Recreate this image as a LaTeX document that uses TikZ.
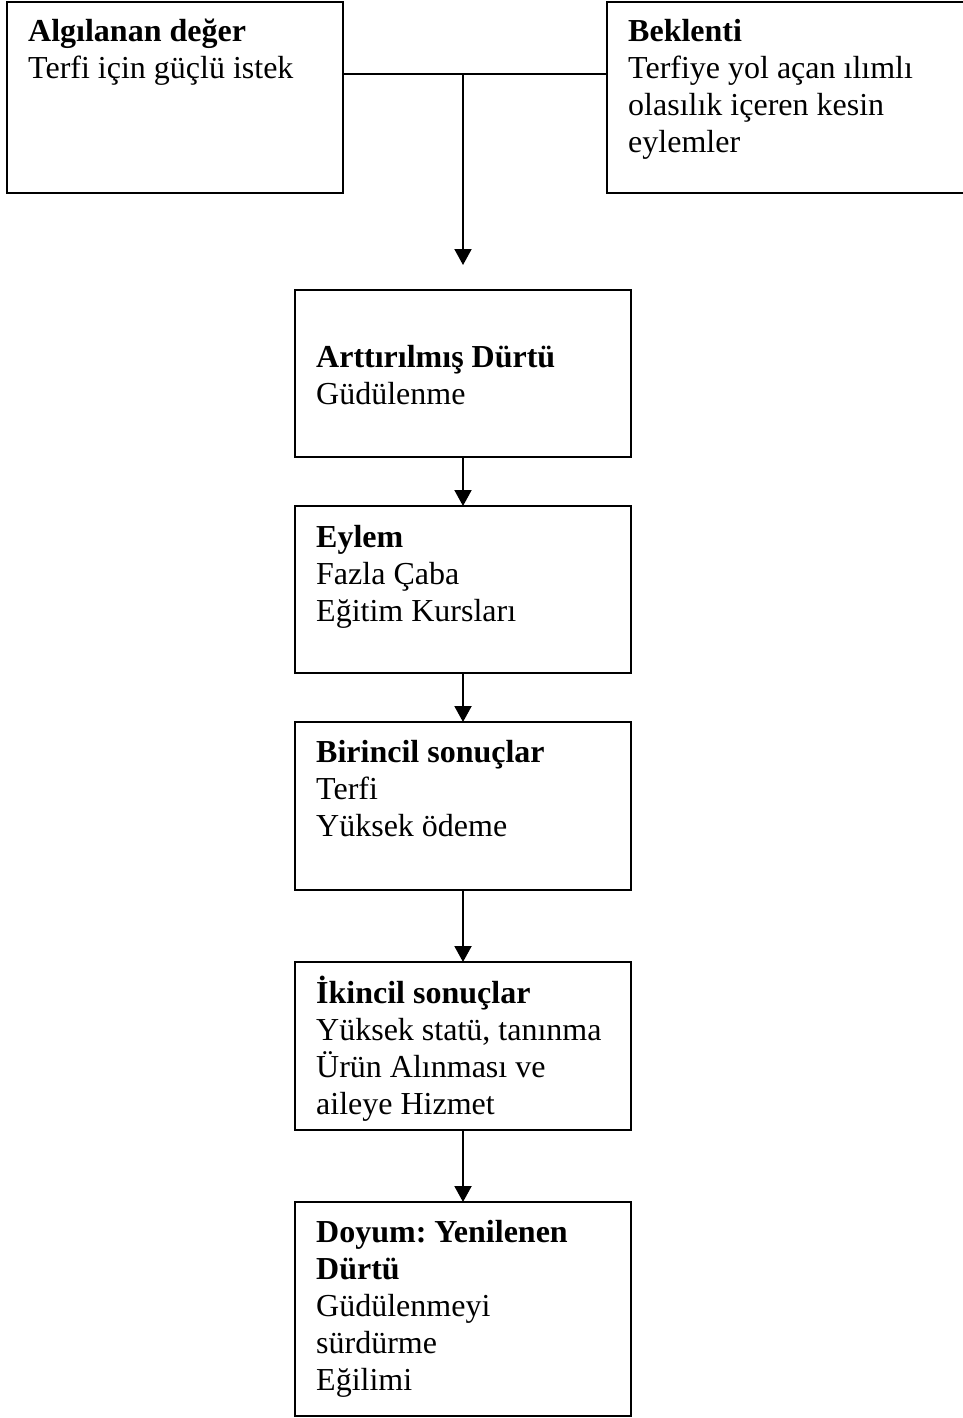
\documentclass[tikz,border=0pt]{standalone}
\usepackage{fontspec}
\setmainfont{Liberation Serif}
\usepackage{tikz}
\usetikzlibrary{arrows.meta,calc}
\tikzstyle{stage}   = [draw,line width=2pt,minimum width=336pt,inner sep=0pt,outer sep=0pt,anchor=north west]
\tikzstyle{boxtext} = [inner sep=0pt,anchor=base west,font=\fontsize{32}{37}\selectfont]
\tikzstyle{link}    = [line width=2pt]
\tikzstyle{flow}    = [line width=2pt,-{Triangle[width=17pt,length=16pt]}]
\newcommand{\stagetext}[2]{\parbox[t]{330pt}{\raggedright\frenchspacing\textbf{#1}\\#2}}

\begin{document}
\begin{tikzpicture}[x=1pt,y=-1pt]
    \useasboundingbox (0,0) rectangle (962,1418);
                  \node (val)[stage,minimum height=191pt] at (7,2) {};
                  \node (exp)[stage,minimum width=370pt,minimum height=191pt] at (607,2) {};
                  \node (s1)[stage,minimum height=167pt] at (295,290) {};
                  \node (s2)[stage,minimum height=167pt] at (295,506) {};
                  \node (s3)[stage,minimum height=168pt] at (295,722) {};
                  \node (s4)[stage,minimum height=168pt] at (295,962) {};
                  \node (s5)[stage,minimum height=214pt] at (295,1202) {};

                  \node (tval)[boxtext] at ($(val.north west)+(21,40)$) {\stagetext{Algılanan değer}{Terfi için güçlü istek}};
                  \node (texp)[boxtext] at ($(exp.north west)+(21,40)$) {\stagetext{Beklenti}{Terfiye yol açan ılımlı\\olasılık içeren kesin\\eylemler}};
                  \node (ts1)[boxtext] at ($(s1.north west)+(21,77)$) {\stagetext{Arttırılmış Dürtü}{Güdülenme}};
                  \node (ts2)[boxtext] at ($(s2.north west)+(21,41)$) {\stagetext{Eylem}{Fazla Çaba\\Eğitim Kursları}};
                  \node (ts3)[boxtext] at ($(s3.north west)+(21,40)$) {\stagetext{Birincil sonuçlar}{Terfi\\Yüksek ödeme}};
                  \node (ts4)[boxtext] at ($(s4.north west)+(21,41)$) {\stagetext{İkincil sonuçlar}{Yüksek statü, tanınma\\Ürün Alınması ve\\aileye Hizmet}};
                  \node (ts5)[boxtext] at ($(s5.north west)+(21,40)$) {\stagetext{Doyum: Yenilenen\\Dürtü}{Güdülenmeyi\\sürdürme\\Eğilimi}};

                  \coordinate (join) at (s1.north |- 0,74);
                  \draw[link] (val.east |- join) -- (exp.west |- join);
                  \draw[flow,shorten >=25pt] (join) -- (s1.north);
                  \draw[flow] (s1) -- (s2);
                  \draw[flow] (s2) -- (s3);
                  \draw[flow] (s3) -- (s4);
                  \draw[flow] (s4) -- (s5);
            \end{tikzpicture}
\end{document}
